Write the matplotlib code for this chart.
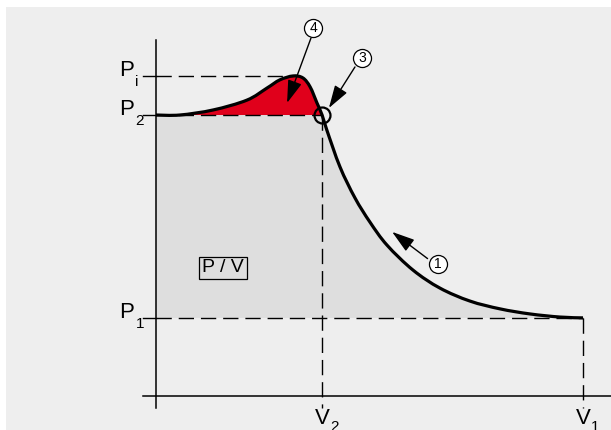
import numpy as np
import matplotlib
matplotlib.use("Agg")
import matplotlib.pyplot as plt
from matplotlib.patches import Rectangle, PathPatch
from matplotlib.path import Path

plt.rcParams['font.family'] = ['Liberation Sans', 'DejaVu Sans']

# ---- data (schematic P/V diagram, arbitrary units) ----
vol = [0, 5.6, 13.4, 21.3, 26.0, 29.0, 32.1, 34.4, 36.1, 37.7, 38.9, 40.0,
       43.1, 46.6, 50.1, 54.1, 60.2, 66.5, 73.5, 80.6, 87.6, 94.6, 100]
pres = [100, 100, 101.8, 105.3, 109.6, 112.5, 113.9, 113.2, 110.0, 104.3, 100,
        94.7, 81.5, 70.5, 61.9, 53.7, 44.8, 38.4, 33.8, 31.0, 29.2, 28.1, 27.8]
p_levels = {'i': 113.9, '2': 100.0, '1': 27.8}
v_levels = {'2': 38.9, '1': 100.0}
callout_labels = ['4', '3', '1']
box_label = 'P / V'

V = np.array(vol)
P = np.array(pres)
P1, P2, Pi = p_levels['1'], p_levels['2'], p_levels['i']
V2, V1 = v_levels['2'], v_levels['1']
i2 = int(np.argmin(np.abs(V - V2)))


def smooth_segments(x, y):
    """Cubic Bezier (Catmull-Rom) vertices/codes drawn by matplotlib's Path."""
    pts = np.column_stack([x, y])
    n = len(pts)
    verts, codes = [], []
    for k in range(n - 1):
        p0 = pts[max(k - 1, 0)]
        p1 = pts[k]
        p2 = pts[k + 1]
        p3 = pts[min(k + 2, n - 1)]
        c1 = p1 + (p2 - p0) / 6.0
        c2 = p2 - (p3 - p1) / 6.0
        verts += [tuple(c1), tuple(c2), tuple(p2)]
        codes += [Path.CURVE4] * 3
    return verts, codes


W, H = 611, 430
fig = plt.figure(figsize=(W / 100, H / 100), dpi=100)
fig.patch.set_facecolor('white')

ax = fig.add_axes([0, 0, 1, 1])
ax.axis('off')
ax.set_xlim(-36.53, 106.56)
ax.set_ylim(-12.10, 140.93)
ax.add_patch(Rectangle((6 / W, 0), 1 - 6 / W, 1 - 7 / H, transform=ax.transAxes,
                       facecolor='#eeeeee', edgecolor='none', zorder=0))

grey = '#dedede'
red = '#e0001b'

# full smooth curve
cv, cc = smooth_segments(V, P)
curve_path = Path([(V[0], P[0])] + cv, [Path.MOVETO] + cc)

# grey region: left box up to P2, then curve from V2 to V1, back along P1
gv, gc = smooth_segments(V[i2:], P[i2:])
grey_path = Path([(0, P1), (0, P2), (V[i2], P[i2])] + gv + [(V1, P1), (0, P1)],
                 [Path.MOVETO, Path.LINETO, Path.LINETO] + gc + [Path.LINETO, Path.CLOSEPOLY])
ax.add_patch(PathPatch(grey_path, facecolor=grey, edgecolor='none', zorder=1))

# red region: curve from 0 to V2 above P2
rv, rc = smooth_segments(V[:i2 + 1], P[:i2 + 1])
red_path = Path([(V[0], P[0])] + rv + [(V[0], P2)],
                [Path.MOVETO] + rc + [Path.CLOSEPOLY])
ax.add_patch(PathPatch(red_path, facecolor=red, edgecolor='none', zorder=2))

# axes lines
ax.plot([-3.0, 106.56], [0, 0], color='black', lw=1.1, zorder=4)
ax.plot([0, 0], [-4.3, 126.7], color='black', lw=1.1, zorder=4)

# dashed guide lines
dash = dict(color='black', lw=1.0, dashes=(11, 5), zorder=3)
for lvl in (Pi, P2, P1):
    ax.plot([-3.0, 0], [lvl, lvl], color='black', lw=1.0, zorder=3)
ax.plot([0, V[np.argmax(P)]], [Pi, Pi], **dash)
ax.plot([0, V2], [P2, P2], **dash)
ax.plot([0, V1], [P1, P1], **dash)
ax.plot([V2, V2], [P2, -4.3], **dash)
ax.plot([V1, V1], [P1, -4.3], **dash)

# curve
ax.add_patch(PathPatch(curve_path, facecolor='none', edgecolor='black', lw=2.3,
                       joinstyle='round', capstyle='butt', zorder=5))
ax.plot([V2], [P2], marker='o', ms=11.5, mfc='none', mec='black', mew=1.6, zorder=6)

# axis labels
fs, sfs = 16, 11
for key, lvl in [('i', Pi), ('2', P2), ('1', P1)]:
    ax.text(-5.2, lvl + 1.9, 'P', fontsize=fs, ha='right', va='center', zorder=7)
    ax.text(-4.8, lvl - 2.2, key, fontsize=sfs, ha='left', va='center', zorder=7)
for key, v in [('2', V2), ('1', V1)]:
    ax.text(v, -7.9, 'V', fontsize=fs, ha='center', va='center', zorder=7)
    ax.text(v + 1.9, -10.9, key, fontsize=sfs, ha='left', va='center', zorder=7)

# box label
ax.text(15.7, 45.6, box_label, fontsize=14, ha='center', va='center', zorder=7,
        bbox=dict(boxstyle='square,pad=0.14', facecolor='none', edgecolor='black', lw=0.9))

# callouts
callouts = [
    (callout_labels[0], (36.8, 131.0), (36.3, 127.4), (30.7, 104.3)),
    (callout_labels[1], (48.2, 120.3), (46.6, 117.1), (40.5, 102.5)),
    (callout_labels[2], (66.0, 47.0), (63.6, 48.9), (55.3, 58.4)),
]
for lab, c, tail, tip in callouts:
    ax.annotate('', xy=tip, xytext=tail,
                arrowprops=dict(arrowstyle='-|>,head_length=0.7,head_width=0.22',
                                mutation_scale=20, color='black', lw=1.0,
                                shrinkA=0, shrinkB=0), zorder=7)
    ax.plot([c[0]], [c[1]], marker='o', ms=13, mfc='white', mec='black', mew=0.9, zorder=8)
    ax.text(c[0], c[1], lab, fontsize=10, ha='center', va='center', zorder=9)

fig.savefig('out.png', dpi=100)
